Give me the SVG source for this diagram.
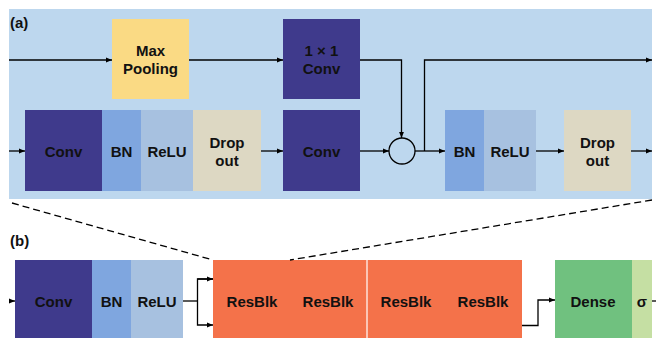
<svg xmlns="http://www.w3.org/2000/svg" width="656" height="338" viewBox="0 0 656 338">
  <defs>
    <marker id="arr" viewBox="0 0 6 6" refX="6" refY="3" markerWidth="6" markerHeight="6" markerUnits="userSpaceOnUse" orient="auto">
      <path d="M0,0.6 L6,3 L0,5.4 Z" fill="#000"/>
    </marker>
    <style>
      text { font-family: "Liberation Sans", Arial, sans-serif; font-weight: bold; font-size: 15px; fill: #111; text-anchor: middle; }
      .lbl { text-anchor: start; }
      .wire { fill: none; stroke: #000; stroke-width: 1.3; }
      .conv { fill: #3F3A8C; }
      .bn { fill: #7FA6DF; }
      .relu { fill: #A7C1E0; }
      .drop { fill: #DDD8C3; }
      .pool { fill: #FADA84; }
      .res { fill: #F4724A; }
      .dense { fill: #70C17F; }
      .sig { fill: #C5DFA3; }
    </style>
  </defs>

  <rect x="0" y="0" width="656" height="338" fill="#fff"/>

  <!-- (a) residual block detail -->
  <rect x="9" y="9" width="643" height="190" fill="#BDD7EE"/>
  <text class="lbl" x="10" y="28">(a)</text>

  <g id="maxpool"><rect class="pool" x="112" y="19" width="77" height="80"/><text x="150.5" y="56">Max</text><text x="150.5" y="74">Pooling</text></g>
  <g id="conv1x1"><rect class="conv" x="283" y="19" width="77" height="80"/><text x="321.5" y="56">1 × 1</text><text x="321.5" y="74">Conv</text></g>

  <g id="a-conv1"><rect class="conv" x="25" y="110" width="77" height="81"/><text x="63.5" y="156.5">Conv</text></g>
  <g id="a-bn1"><rect class="bn" x="102" y="110" width="39" height="81"/><text x="121.5" y="156.5">BN</text></g>
  <g id="a-relu1"><rect class="relu" x="141" y="110" width="52" height="81"/><text x="167" y="156.5">ReLU</text></g>
  <g id="a-drop1"><rect class="drop" x="193" y="110" width="68" height="81"/><text x="227" y="148">Drop</text><text x="227" y="166">out</text></g>
  <g id="a-conv2"><rect class="conv" x="283" y="110" width="77" height="81"/><text x="321.5" y="156.5">Conv</text></g>
  <g id="a-add"><circle cx="402" cy="151" r="13" fill="none" stroke="#000" stroke-width="1.3"/></g>
  <g id="a-bn2"><rect class="bn" x="445" y="110" width="39" height="81"/><text x="464.5" y="156.5">BN</text></g>
  <g id="a-relu2"><rect class="relu" x="484" y="110" width="52" height="81"/><text x="510" y="156.5">ReLU</text></g>
  <g id="a-drop2"><rect class="drop" x="564" y="110" width="67" height="81"/><text x="597.5" y="148">Drop</text><text x="597.5" y="166">out</text></g>

  <!-- (b) full network -->
  <text class="lbl" x="10" y="246">(b)</text>
  <g id="b-conv"><rect class="conv" x="15" y="260" width="77" height="78"/><text x="53.5" y="307">Conv</text></g>
  <g id="b-bn"><rect class="bn" x="92" y="260" width="39" height="78"/><text x="111.5" y="307">BN</text></g>
  <g id="b-relu"><rect class="relu" x="131" y="260" width="52" height="78"/><text x="157" y="307">ReLU</text></g>
  <g id="b-resblk">
    <rect class="res" x="213" y="260" width="309" height="78"/>
    <line x1="367" y1="260" x2="367" y2="338" stroke="#fff" stroke-width="1.2"/>
    <text x="252" y="307">ResBlk</text><text x="328" y="307">ResBlk</text>
    <text x="406" y="307">ResBlk</text><text x="483" y="307">ResBlk</text>
  </g>
  <g id="b-dense"><rect class="dense" x="555" y="260" width="77" height="78"/><text x="593" y="307">Dense</text></g>
  <g id="b-sigma"><rect class="sig" x="632" y="260" width="20" height="78"/><text x="642" y="307">σ</text></g>

  <g id="connectors">
    <!-- (a) top path -->
    <path class="wire" d="M9,60 H112" marker-end="url(#arr)"/>
    <path class="wire" d="M189,60 H283" marker-end="url(#arr)"/>
    <path class="wire" d="M360,60 H401.5 V138" marker-end="url(#arr)"/>
    <!-- (a) main path -->
    <path class="wire" d="M9,151 H25" marker-end="url(#arr)"/>
    <path class="wire" d="M261,151 H283" marker-end="url(#arr)"/>
    <path class="wire" d="M360,151 H389" marker-end="url(#arr)"/>
    <path class="wire" d="M415,151 H445" marker-end="url(#arr)"/>
    <path class="wire" d="M424.5,151 V60 H652" marker-end="url(#arr)"/>
    <path class="wire" d="M536,151 H564" marker-end="url(#arr)"/>
    <path class="wire" d="M631,151 H652" marker-end="url(#arr)"/>
    <!-- (b) -->
    <path class="wire" d="M9,301 H15" marker-end="url(#arr)"/>
    <path class="wire" d="M183,301 H197.5"/>
    <path class="wire" d="M213,279 H197.5 V325 H213" marker-end="url(#arr)"/>
    <path class="wire" d="M197.5,279 H213" marker-end="url(#arr)"/>
    <path class="wire" d="M522,325.5 H538 V300 H555" marker-end="url(#arr)"/>
    <path class="wire" d="M652,301 H656"/>
    <!-- zoom guides -->
    <path class="wire" d="M12,203 L213,260" stroke-width="1.4" stroke-dasharray="7,4"/>
    <path class="wire" d="M652,200 L290,260" stroke-width="1.4" stroke-dasharray="7,4"/>
  </g>
</svg>
